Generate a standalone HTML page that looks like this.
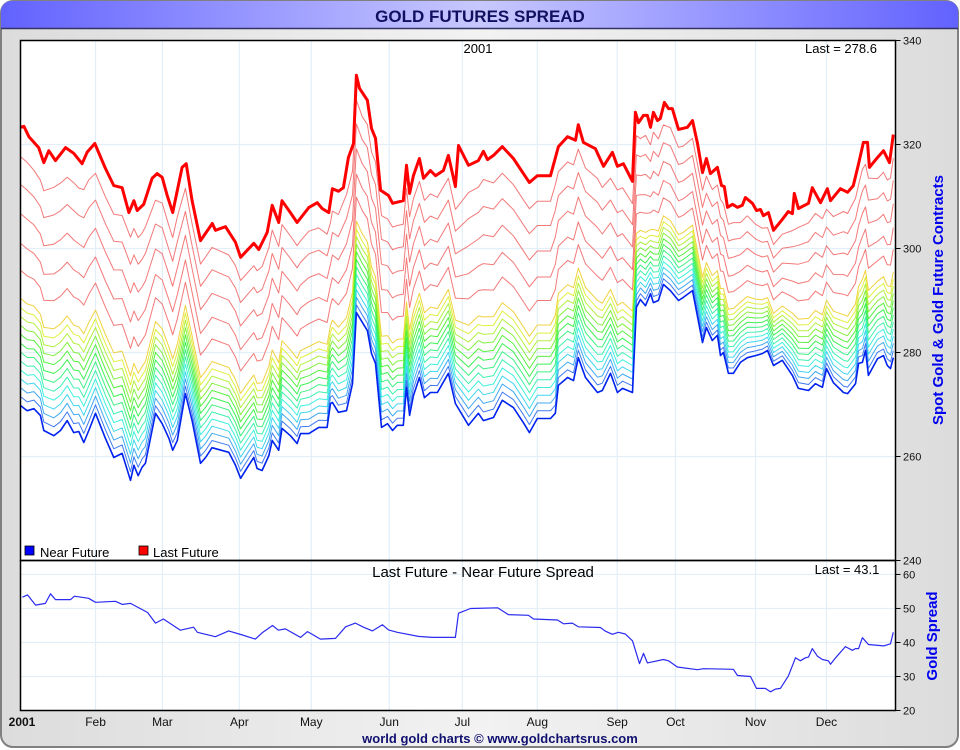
<!DOCTYPE html>
<html><head><meta charset="utf-8"><style>
html,body{margin:0;padding:0;background:#fff;}
svg{display:block;font-family:"Liberation Sans",sans-serif;}
</style></head><body>
<svg id="chart" width="960" height="750" viewBox="0 0 960 750" xmlns="http://www.w3.org/2000/svg">
<defs>
<linearGradient id="tg" x1="0" x2="1" y1="0" y2="0"><stop offset="0" stop-color="#6262ff"/><stop offset="0.5" stop-color="#c8c8ff"/><stop offset="1" stop-color="#6262ff"/></linearGradient>
<linearGradient id="bg" x1="0" x2="1" y1="0" y2="0"><stop offset="0" stop-color="#dcdcdc"/><stop offset="0.5" stop-color="#f2f2f2"/><stop offset="1" stop-color="#dcdcdc"/></linearGradient>
</defs>
<rect x="1" y="1" width="957" height="746" rx="12" fill="url(#bg)" stroke="#808080" stroke-width="2"/>
<path d="M1,28 L1,13 Q1,1 13,1 L946,1 Q958,1 958,13 L958,28 Z" fill="url(#tg)"/>
<line x1="1" y1="28.5" x2="958" y2="28.5" stroke="#333366" stroke-width="1.5"/>
<text x="480" y="22" text-anchor="middle" font-size="17" font-weight="bold" fill="#101060">GOLD FUTURES SPREAD</text>
<rect x="20.5" y="40.5" width="875" height="670" fill="#fff"/>
<g id="grid"></g>
<g id="series"></g>
<rect x="20.5" y="40.5" width="875" height="520" fill="none" stroke="#000" stroke-width="1.5"/>
<rect x="20.5" y="560.5" width="875" height="150" fill="none" stroke="#000" stroke-width="1.5"/>
<g id="axes"></g>
<text x="478" y="53" text-anchor="middle" font-size="13" fill="#000">2001</text>
<text x="841" y="53" text-anchor="middle" font-size="13" fill="#000">Last = 278.6</text>
<text x="483" y="577" text-anchor="middle" font-size="15" fill="#000">Last Future - Near Future Spread</text>
<text x="847" y="574" text-anchor="middle" font-size="13" fill="#000">Last = 43.1</text>
<rect x="25" y="546" width="9" height="9" fill="#0000ff" stroke="#000" stroke-width="0.8"/>
<text x="40" y="557" font-size="13" fill="#000">Near Future</text>
<rect x="139" y="546" width="9" height="9" fill="#ff0000" stroke="#000" stroke-width="0.8"/>
<text x="153" y="557" font-size="13" fill="#000">Last Future</text>
<text transform="translate(943,300) rotate(-90)" text-anchor="middle" font-size="15" font-weight="bold" fill="#0000ee">Spot Gold &amp; Gold Future Contracts</text>
<text transform="translate(937,636) rotate(-90)" text-anchor="middle" font-size="15" font-weight="bold" fill="#0000ee">Gold Spread</text>
<text x="500" y="743" text-anchor="middle" font-size="13" font-weight="bold" fill="#101070">world gold charts © www.goldchartsrus.com</text>
</svg>
<script>
const nearDays=[0,2.8,5.6,8.3,9.7,13.9,16.7,19.5,22.2,24.3,26.4,28.5,31.3,35.4,38.9,42.4,45.9,47.3,49.1,50.7,52.1,56.3,59.1,61.9,63.5,65.4,68.8,71.6,75.1,77.2,79.9,86.9,89.7,91.8,95.2,97.3,98.7,100.8,103.6,105,107.7,109.1,112.6,115.4,116.8,120.3,124.4,127.9,129.3,130.1,132.6,136,138.5,140.1,142.6,144.7,146.4,148.1,150.6,153.1,155.2,157.2,159.7,161,162.3,163.9,166.4,168.5,171,173.9,178.5,181.4,186.9,191,193.1,197.3,201,205.6,209.8,212.3,215.6,221.1,223.1,224.4,228.2,230.7,232.7,235.7,240.7,242.7,246.1,249,251.1,255.3,256.9,258.6,260.7,262.8,264,266.1,268.2,271.1,274.5,276.5,280.3,284.5,286.1,288.6,290.7,292,293.2,295.3,297.4,300.3,303.2,306.6,309.5,311.6,314.1,317.8,322,324.5,328.7,331.6,334.5,336.2,339.1,343.3,345,348.3,349.6,351.2,352.5,353.7,357.5,360,361.6,362.9,364.1];
const nearValues=[269.8,268.8,269.2,267.9,265,264,265,266.9,264.6,264.8,262.7,265,268.3,263.5,259.8,260.6,255.4,258.3,256.3,257.9,258.7,268.3,266.3,263.5,261.2,263.1,272.1,266.9,258.7,259.8,261.7,260.8,258.3,255.8,258.3,259.8,257.7,257.3,260.2,263.1,261.2,265.4,264,262.5,264.4,264.4,265.6,265.6,270.2,270.4,268.5,268.8,274,287.7,285.8,284.2,279.8,277.9,265.6,266.3,265,266,266,273.3,267.9,271.7,275.2,271.3,272.3,272.3,276,270.2,266,268.3,266.9,267.5,270.8,269.4,266.5,264.6,267.3,267.3,268.3,273.7,275.2,274.6,279,275.2,272.3,272.7,276,272.3,273.1,272.3,288.7,290.2,289,291.3,289.6,290,293.1,291.9,290,290.6,291.9,281.9,284.8,282.3,283.3,279.4,280,276,276,278.1,279,279.4,279.8,280.4,277.5,278.5,275.6,273.1,272.7,274,273.3,276.9,274.2,272.3,272.1,274,277.9,278.1,280.4,275.6,278.8,279.4,277.5,276.9,279];
const lastDays=[0,1.4,3.5,7.6,9.7,11.8,14.6,18.8,22.2,25.7,27.8,31,35.4,38.9,42.4,45.2,47.3,48.7,51.4,54.9,57,59.1,61.2,63.5,67.4,69.1,71.6,75.1,80,81.3,85.5,89.7,91.8,97.3,99.4,102.9,105,107.7,109.1,112.6,115.4,120.3,123.8,125.8,128.6,130.1,132.6,134.7,136.8,138.9,140.1,141.4,144.7,146.4,148.1,150.2,153.5,155.2,159.7,161,162.3,163.9,166.4,168.1,171,173.1,176.4,178.5,181.4,182.7,186.9,191,193.1,194.8,197.3,201,205.6,209.8,212.3,215.6,221.1,224.4,228.2,231.5,232.7,234.8,239.8,243.2,246.9,249,251.5,255.3,256.5,257.8,259.9,261.5,262.8,264,265.7,266.9,268.6,270.3,271.9,274.5,278.2,280.3,282.4,284.5,286.1,287.8,290.7,292.4,293.6,294.9,297,299.1,301.1,302.4,305.3,307,308.7,309.9,312,314.1,317.8,320.3,322,322.8,324.5,328.7,330.3,333.7,336.6,337.9,342,345,347.4,349.6,351.6,353.3,354.1,357.5,360,362.5,364.1];
const lastValues=[323.3,323.5,321.5,319.4,316.5,318.8,316.9,319.4,318.3,316.3,318.5,320.2,315.4,312.1,311.7,306.9,309.2,307.3,308.5,313.5,314.4,313.7,310.2,306.9,315.6,316.3,309.2,301.5,304.8,303.5,304.2,301.2,298.3,301,299.8,303.1,308.3,305,309.2,306.9,305,307.9,308.8,307.7,306.9,311.5,311,311.7,317.5,320.2,333.3,330.8,328.5,323.1,321.2,311.2,310.2,308.7,309.2,316,310.6,314,317.3,313.5,315,314,315,317.9,311.9,319.8,316,316.9,318.7,317.1,317.9,319.6,317.3,314.4,312.7,314,314,319.6,321.5,320.8,323.8,320.4,319.2,315.8,318.5,315.8,316.3,312.9,326.2,324.2,325.6,325.6,323.3,326.2,324.6,325,328.1,326.9,326.9,322.9,323.3,324.6,320.2,314.6,317.3,314.4,315.6,312.1,311.9,307.9,308.5,307.9,308.3,309.8,308.7,307.3,307.5,306.3,306.9,303.5,305.6,307.1,306.7,310.6,307.7,308.7,311.7,308.8,311.5,309.2,311.5,310.8,312.1,316.3,320.4,320.4,315.6,317.5,318.8,316.5,321.9];
const spreadDays=[0.8,2.9,6.3,10.4,12.5,14.6,20.9,22.5,28.4,31.3,39.6,42.5,45.9,53,56.3,59.6,66.7,72.2,73.8,81.3,86.8,92.6,98,100.9,105.1,107.6,110.5,116.8,119.7,125.1,131.4,135.6,139.7,143.1,146.8,151,153.5,157.2,166,171.8,181.4,182.7,187.7,199,203.5,211.9,214,224,226.5,230.2,232.7,241.9,244,246.9,249.4,252.3,255.3,258.2,259.9,261.5,268.2,270.3,274,282.4,284.9,297.4,299.1,304.5,307,310.7,312.8,314.9,317,320.3,323.3,325.3,327.4,328.7,330.3,332.4,334.5,337,337.9,340,344.1,347,348.3,349.6,351.2,353.7,360,362.9,364.1];
const spreadValues=[53.3,54,51,51.5,54.3,52.6,52.6,53.6,53,51.8,52.1,51.2,51.5,48.8,45.7,46.9,43.6,44.5,43,41.7,43.4,42.2,41,42.9,45,43.6,44,41.5,43.2,41,41.2,44.6,45.7,44.5,43.4,45.2,43.7,43,41.8,41.5,41.5,48.6,50,50.2,48.2,48,46.9,46.6,45.5,45.7,44.6,44.4,43.3,42.4,43,42.5,40.5,33.8,36.8,34,35,34.6,32.8,32,32.3,32.1,30.3,30,26.5,26.5,25.5,26.3,26.5,30.1,35.5,34.6,35.5,35.7,38.2,36,35,34.6,33.6,35.5,38.8,37.7,38.2,38.2,41.4,39.4,39,39.6,43];
const contractFractions=[0.032,0.064,0.096,0.128,0.16,0.192,0.224,0.256,0.288,0.32,0.352,0.385,0.486,0.583,0.69,0.795,0.895];
const mainTicks=[240,260,280,300,320,340];
const spreadTicks=[20,30,40,50,60];
const monthTickDays=[31.3,59.2,91.3,121.3,153.8,184.3,215.6,248.9,273.2,306.6,336.2];
const monthLabels=["Feb","Mar","Apr","May","Jun","Jul","Aug","Sep","Oct","Nov","Dec"];

const NS="http://www.w3.org/2000/svg";
const X0=20.5,X1=895.5,DAYS=365;
const xS=d=>X0+d*(X1-X0)/DAYS;
const yMain=v=>560.5-(v-240)*(520/100);
const ySpr=v=>710.5-(v-20)*(150/44.1);
function mk(tag,attrs,parent){const e=document.createElementNS(NS,tag);for(const k in attrs)e.setAttribute(k,attrs[k]);parent.appendChild(e);return e;}
const grid=document.getElementById('grid'),series=document.getElementById('series'),axes=document.getElementById('axes');
monthTickDays.forEach((d,i)=>{
  const x=xS(d);
  const g=mk('line',{x1:x,x2:x,y1:40.5,y2:710.5,stroke:'#e3eff8','stroke-width':1.2},grid);
  
  
  const t=mk('text',{x:x,y:726,'text-anchor':'middle','font-size':12,fill:'#111'},axes);
  t.textContent=monthLabels[i];
  
  
});
const t0=mk('text',{x:22,y:726,'text-anchor':'middle','font-size':12,'font-weight':'bold',fill:'#111'},axes);
t0.textContent='2001';


mainTicks.forEach(v=>{
  const y=yMain(v);
  if(v>240&&v<340){const g=mk('line',{x1:X0,x2:X1,y1:y,y2:y,stroke:'#e3eff8','stroke-width':1.2},grid);
  
  }
  mk('line',{x1:X1,x2:X1+5,y1:y,y2:y,stroke:'#000'},axes);
  const t=mk('text',{x:903,y:y+4,'font-size':11,fill:'#111'},axes);
  t.textContent=v;
  
  
});
spreadTicks.forEach(v=>{
  const y=ySpr(v);
  if(v>20){const g=mk('line',{x1:X0,x2:X1,y1:y,y2:y,stroke:'#e3eff8','stroke-width':1.2},grid);
  
  }
  mk('line',{x1:X1,x2:X1+5,y1:y,y2:y,stroke:'#000'},axes);
  const t=mk('text',{x:903,y:y+4,'font-size':11,fill:'#111'},axes);
  t.textContent=v;
  
  
});
function lastAt(d){
  if(d<=lastDays[0])return lastValues[0];
  for(let i=1;i<lastDays.length;i++){if(d<=lastDays[i]){const t=(d-lastDays[i-1])/(lastDays[i]-lastDays[i-1]);return lastValues[i-1]+t*(lastValues[i]-lastValues[i-1]);}}
  return lastValues[lastValues.length-1];
}
function poly(pts,attrs,name){
  const p=mk('polyline',Object.assign({points:pts.map(q=>q[0].toFixed(1)+','+q[1].toFixed(1)).join(' '),fill:'none','stroke-linejoin':'round'},attrs),series);
  
  
  return p;
}
const nRain=12;
for(let k=contractFractions.length-1;k>=0;k--){
  const f=contractFractions[k];
  const pts=nearDays.map((d,i)=>[xS(d),yMain(nearValues[i]+f*(lastAt(d)-nearValues[i]))]);
  let col;
  if(k<nRain){const h=220-k*170/(nRain-1);col='hsl('+h+',85%,55%)';}
  else col='#f26a6a';
  poly(pts,{stroke:col,'stroke-width':1,'stroke-opacity':0.9},'contract-line-'+(k+1));
}
poly(nearDays.map((d,i)=>[xS(d),yMain(nearValues[i])]),{stroke:'#0022ee','stroke-width':1.6},'near-future-line');
poly(lastDays.map((d,i)=>[xS(d),yMain(lastValues[i])]),{stroke:'#ff0000','stroke-width':3},'last-future-line');
poly(spreadDays.map((d,i)=>[xS(d),ySpr(spreadValues[i])]),{stroke:'#2a2af0','stroke-width':1.2},'spread-line');
</script>
</body></html>
